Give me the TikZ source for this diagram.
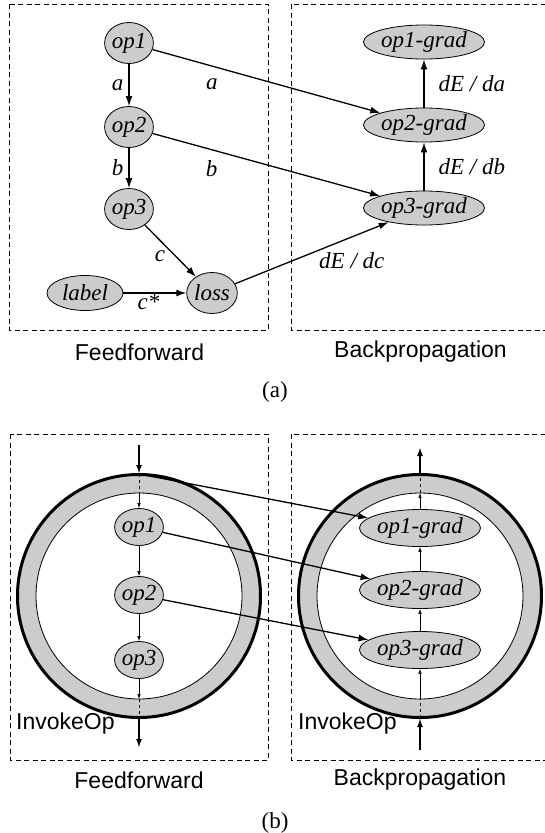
\documentclass[tikz,border=0pt]{standalone}
\usepackage{fontspec}
\setmainfont{Liberation Serif}
\setsansfont{Liberation Sans}
\usetikzlibrary{shapes.geometric,arrows.meta}

\tikzset{
  opnode/.style={ellipse,draw,line width=0.8pt,fill=gray!40,inner sep=0pt,font=\itshape},
  lab/.style={font=\itshape,inner sep=2pt},
  frame/.style={draw,line width=0.8pt,dash pattern=on 5pt off 3.5pt},
  flow/.style={-{Latex[length=10pt,width=7pt]},line width=1.3pt},
  bigflow/.style={-{Latex[length=9pt,width=6pt]},line width=2pt},
  smallflow/.style={-{Latex[length=5pt,width=3.5pt]},line width=0.6pt},
  through/.style={line width=1pt,dash pattern=on 3pt off 3pt},
  title/.style={font=\sffamily}
}

\begin{document}
\fontsize{23}{27}\selectfont
\begin{tikzpicture}[x=1pt,y=-1pt]
  \useasboundingbox (0,0) rectangle (545,833);

  % (a)
  \draw[frame] (9,4) rectangle (268,330);
  \draw[frame] (291,4) rectangle (547,330);

  \begin{scope}[every node/.style={opnode, minimum width=48pt, minimum height=41pt}]
    \node (op1)  at (129,43)  {op1};
    \node (op2)  at (129,127) {op2};
    \node (op3)  at (129,209) {op3};
    \node (loss) at (212,293) {loss};
    \node[minimum width=76pt, minimum height=35pt] (label) at (85,293) {label};
  \end{scope}

  \begin{scope}[every node/.style={opnode, minimum width=103pt, minimum height=34pt}]
    \node (g1) at (424,42)  {op1-grad};
    \node (g2) at (424,125) {op2-grad};
    \node (g3) at (424,208) {op3-grad};
  \end{scope}

  \path (op1)   edge[flow] node[lab,left=3pt] {a} (op2);
  \path (op2)   edge[flow] node[lab,left=3pt] {b} (op3);
  \path (op3)   edge[flow] node[lab,below left,pos=0.45] {c} (loss);
  \path (label) edge[flow] node[lab,below,pos=0.4,inner sep=1pt] {c*} (loss);
  \path (op1)   edge[flow] node[lab,below=10pt,pos=0.26] {a} (g2);
  \path (op2)   edge[flow] node[lab,below=8pt,pos=0.26] {b} (g3);
  \path (loss)  edge[flow] node[lab,below=13pt,pos=0.76] {dE / dc} (g3);
  \path (g2)    edge[flow] node[lab,right=12pt] {dE / da} (g1);
  \path (g3)    edge[flow] node[lab,right=12pt] {dE / db} (g2);

  \node[title] (ff1) at (139.5,352) {Feedforward};
  \node[title] (bp1) at (420.5,352) {Backpropagation};
  \node (capa) at (275,392) {(a)};

  % (b)
  \draw[frame] (10,434) rectangle (268,760);
  \draw[frame] (291,434) rectangle (547,760);

  \coordinate (lc) at (139,596);
  \coordinate (rc) at (420,596);
  \foreach \c in {lc,rc} {
    \fill[gray!40,even odd rule] (\c) circle[radius=122pt] circle[radius=103pt];
    \draw[line width=3pt] (\c) circle[radius=121.5pt];
    \draw[line width=0.8pt] (\c) circle[radius=103pt];
  }

  \begin{scope}[every node/.style={opnode, minimum width=48pt, minimum height=37pt}]
    \node (f1) at (139,527) {op1};
    \node (f2) at (139,595) {op2};
    \node (f3) at (139,660) {op3};
  \end{scope}

  \begin{scope}[every node/.style={opnode, minimum width=116pt, minimum height=37pt}]
    \node (b1) at (420,528) {op1-grad};
    \node (b2) at (420,590) {op2-grad};
    \node (b3) at (420,650) {op3-grad};
  \end{scope}

  \coordinate (lin)   at (139,445);
  \coordinate (ltop)  at (139,474);
  \coordinate (lint)  at (139,493);
  \coordinate (linb)  at (139,699);
  \coordinate (lbot)  at (139,718);
  \coordinate (lout)  at (139,748);
  \coordinate (rin)   at (420,750);
  \coordinate (rbot)  at (420,718);
  \coordinate (rinb)  at (420,699);
  \coordinate (rint)  at (420,493);
  \coordinate (rtop)  at (420,474);
  \coordinate (rout)  at (420,447);

  \draw[bigflow]   (lin)  -- (ltop);
  \draw[through]   (ltop) -- (lint);
  \draw[smallflow] (lint) -- (f1);
  \draw[smallflow] (f1)   -- (f2);
  \draw[smallflow] (f2)   -- (f3);
  \draw[smallflow] (f3)   -- (linb);
  \draw[through]   (linb) -- (lbot);
  \draw[bigflow]   (lbot) -- (lout);

  \draw[bigflow]   (rin)  -- (rbot);
  \draw[through]   (rbot) -- (rinb);
  \draw[smallflow] (rinb) -- (b3);
  \draw[smallflow] (b3)   -- (b2);
  \draw[smallflow] (b2)   -- (b1);
  \draw[smallflow] (b1)   -- (rint);
  \draw[through]   (rint) -- (rtop);
  \draw[bigflow]   (rtop) -- (rout);

  \draw[flow] (ltop) -- (b1);
  \draw[flow] (f1)   -- (b2);
  \draw[flow] (f2)   -- (b3);

  \node[title,anchor=west,inner sep=0pt] (inv1) at (16,724) {InvokeOp};
  \node[title,anchor=west,inner sep=0pt] (inv2) at (298,724) {InvokeOp};
  \node[title] (ff2) at (139,780) {Feedforward};
  \node[title] (bp2) at (420,780) {Backpropagation};
  \node (capb) at (275,823) {(b)};
\end{tikzpicture}
\end{document}
